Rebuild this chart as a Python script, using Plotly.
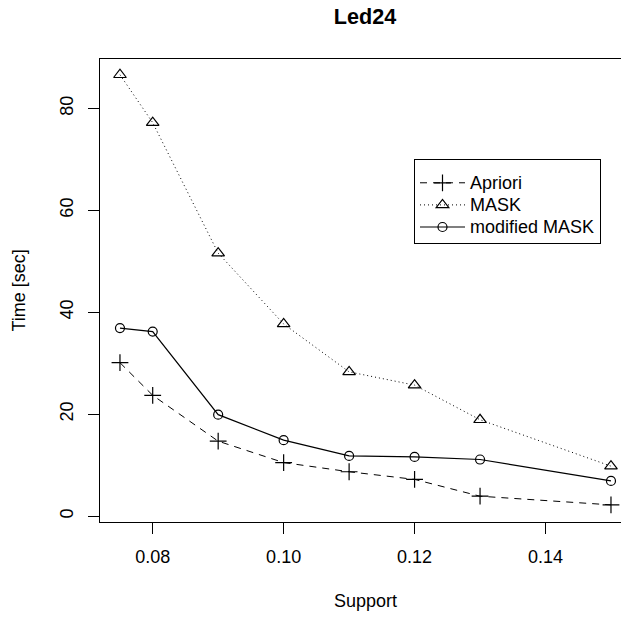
import plotly.graph_objects as go

support = [0.075, 0.08, 0.09, 0.10, 0.11, 0.12, 0.13, 0.15]
apriori = [30.1, 23.7, 14.7, 10.5, 8.7, 7.2, 3.9, 2.2]
mask = [86.6, 77.2, 51.6, 37.7, 28.3, 25.7, 18.9, 9.8]
modified_mask = [36.9, 36.2, 19.9, 14.9, 11.8, 11.6, 11.1, 6.9]

series_names = ["Apriori", "MASK", "modified MASK"]
x_ticks = [0.08, 0.10, 0.12, 0.14]
x_ticklabels = ["0.08", "0.10", "0.12", "0.14"]
y_ticks = [0, 20, 40, 60, 80]
y_ticklabels = ["0", "20", "40", "60", "80"]

FONT = "Liberation Sans, Arial, Helvetica, sans-serif"


def lname(s):
    return "<span style='font-size:18px'>" + s + "</span>"


fig = go.Figure()
fig.add_trace(go.Scatter(
    x=support, y=apriori, name=lname(series_names[0]), mode="lines+markers",
    cliponaxis=False,
    line=dict(color="black", width=1, dash="7px,6px"),
    marker=dict(symbol="cross-thin-open", size=12, color="black",
                line=dict(color="black", width=1.2)),
))
fig.add_trace(go.Scatter(
    x=support, y=mask, name=lname(series_names[1]), mode="lines+markers",
    cliponaxis=False,
    line=dict(color="black", width=1, dash="1px,3px"),
    marker=dict(symbol="triangle-up-open", size=11, color="black",
                line=dict(color="black", width=1.2)),
))
fig.add_trace(go.Scatter(
    x=support, y=modified_mask, name=lname(series_names[2]), mode="lines+markers",
    cliponaxis=False,
    line=dict(color="black", width=1.2),
    marker=dict(symbol="circle-open", size=9, color="black",
                line=dict(color="black", width=1.2)),
))

fig.update_layout(
    width=621, height=617,
    margin=dict(l=100, r=0, t=59, b=95, pad=0),
    paper_bgcolor="white", plot_bgcolor="white",
    font=dict(family=FONT, size=18, color="black"),
    title=dict(text="<b>Led24</b>", font=dict(family=FONT, size=21.6, color="black"),
               x=365/621, xref="container", xanchor="center",
               y=1-16/617, yref="container", yanchor="middle"),
    showlegend=True,
    legend=dict(x=(414-100)/521, y=(522.3-159.3)/463.3, xanchor="left", yanchor="top",
                bordercolor="black", borderwidth=1, bgcolor="white",
                font=dict(family=FONT, size=14.7, color="black"),
                title=dict(text="&nbsp;", font=dict(family=FONT, size=5)),
                itemwidth=45, tracegroupgap=0),
    xaxis=dict(range=[0.07195, 0.15153], tickvals=x_ticks, ticktext=x_ticklabels,
               showgrid=False, zeroline=False, showline=True, linecolor="black",
               linewidth=1, mirror=True, ticks="outside", ticklen=11, tickwidth=1,
               tickcolor="black", ticklabelstandoff=7,
               tickfont=dict(family=FONT, size=18, color="black")),
    yaxis=dict(range=[-1.16, 89.69], tickvals=y_ticks, ticktext=y_ticklabels,
               showgrid=False, zeroline=False, showline=True, linecolor="black",
               linewidth=1, mirror=False, ticks="outside", ticklen=11, tickwidth=1,
               tickcolor="black", tickangle=-90, ticklabelstandoff=8,
               tickfont=dict(family=FONT, size=18, color="black")),
    annotations=[
        dict(text="Support", xref="paper", yref="paper", x=(365-100)/521,
             y=(522.3-601.7)/463.3, xanchor="center", yanchor="middle",
             showarrow=False, font=dict(family=FONT, size=18, color="black")),
        dict(text="Time [sec]", xref="paper", yref="paper", x=(18-100)/521,
             y=0.5, xanchor="center", yanchor="middle", textangle=-90,
             showarrow=False, font=dict(family=FONT, size=18, color="black")),
    ],
)

fig.write_html(
    "out.html",
    config={"displayModeBar": False},
    post_script="document.body.style.margin='0';document.body.style.overflow='hidden';",
)
